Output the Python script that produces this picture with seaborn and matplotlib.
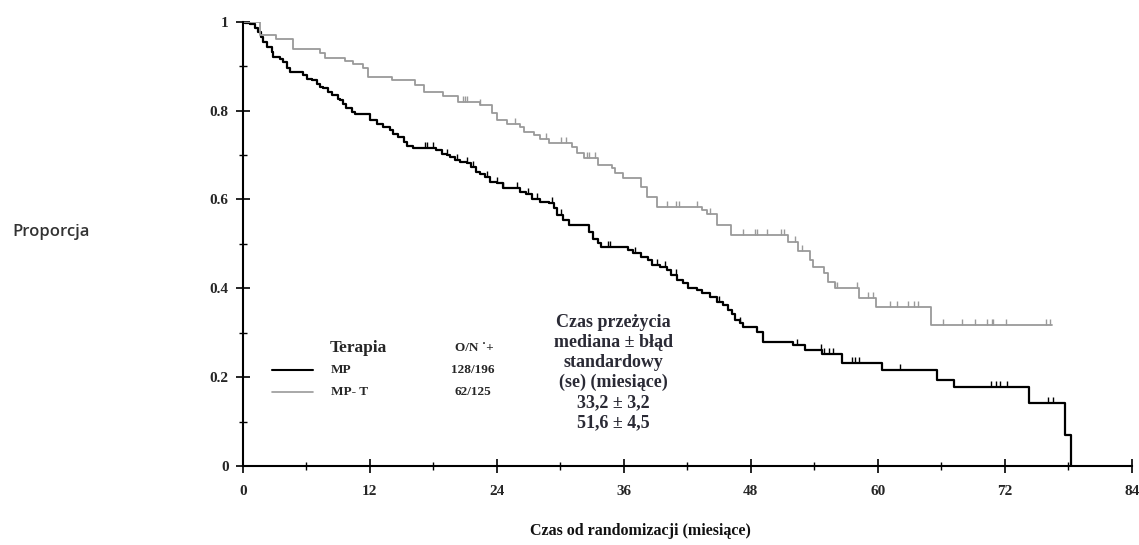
import numpy as np
import pandas as pd
import matplotlib
matplotlib.use("Agg")
import matplotlib.pyplot as plt
import seaborn as sns
from matplotlib.path import Path
from matplotlib.ticker import MultipleLocator

# ---------------- data ----------------
mp_time = [0, 0.22, 0.69, 1.16, 1.47, 1.70, 1.95, 2.27, 2.74, 2.89, 3.53, 3.84, 4.16, 4.47,
           5.73, 6.05, 6.52, 7.0, 7.3, 7.6, 8.1, 8.4, 9.0, 9.2, 9.5, 9.8, 10.3, 10.6, 12.0,
           12.7, 13.3, 13.9, 14.2, 14.7, 15.2, 15.5, 16.1, 18.3, 18.8, 19.3, 19.6, 20.1, 20.5,
           21.2, 21.6, 22.0, 22.4, 22.9, 23.4, 24.0, 24.6, 26.2, 26.8, 27.3, 28.1, 28.9, 29.4,
           29.7, 30.3, 30.8, 32.7, 33.1, 33.6, 33.9, 36.4, 36.9, 37.6, 38.3, 38.7, 39.4, 40.1,
           40.5, 41.0, 41.6, 42.1, 42.9, 43.4, 44.2, 44.8, 45.4, 45.9, 46.2, 46.5, 47.0, 47.3,
           48.6, 49.2, 52.0, 53.1, 54.7, 56.6, 60.4, 65.6, 67.2, 74.3, 77.7, 78.3]
mp_surv = [1.0, 0.998, 0.994, 0.986, 0.977, 0.966, 0.955, 0.943, 0.932, 0.921, 0.917, 0.910, 0.895, 0.887,
           0.880, 0.872, 0.868, 0.861, 0.853, 0.850, 0.841, 0.835, 0.827, 0.823, 0.816, 0.805, 0.796, 0.792, 0.778,
           0.771, 0.763, 0.756, 0.748, 0.741, 0.730, 0.721, 0.717, 0.711, 0.703, 0.700, 0.696, 0.688, 0.685,
           0.681, 0.673, 0.662, 0.658, 0.651, 0.640, 0.636, 0.625, 0.617, 0.613, 0.602, 0.595, 0.591, 0.580,
           0.565, 0.553, 0.542, 0.526, 0.512, 0.501, 0.493, 0.486, 0.479, 0.471, 0.463, 0.452, 0.448, 0.441,
           0.430, 0.418, 0.411, 0.400, 0.396, 0.389, 0.381, 0.370, 0.362, 0.351, 0.343, 0.328, 0.321, 0.313,
           0.302, 0.280, 0.272, 0.261, 0.253, 0.232, 0.216, 0.193, 0.177, 0.141, 0.070, 0.0]

mpt_time = [0, 1.65, 3.1, 4.75, 7.3, 7.8, 9.7, 10.4, 11.4, 11.8, 14.1, 16.3, 17.1, 18.9, 20.3,
            22.4, 23.6, 24.0, 25.0, 26.2, 26.6, 27.5, 28.1, 28.9, 31.1, 31.6, 32.2, 33.6, 34.9,
            35.2, 35.9, 37.6, 38.2, 39.1, 43.4, 43.9, 44.8, 46.1, 51.5, 52.5, 53.6, 53.9, 54.9,
            55.3, 56.0, 58.2, 59.8, 65.0, 76.5]
mpt_surv = [1.0, 0.970, 0.961, 0.938, 0.930, 0.919, 0.912, 0.904, 0.895, 0.876, 0.868, 0.857, 0.842, 0.832, 0.819,
            0.812, 0.795, 0.778, 0.771, 0.763, 0.752, 0.745, 0.737, 0.727, 0.718, 0.704, 0.693, 0.677, 0.670,
            0.659, 0.648, 0.628, 0.605, 0.583, 0.576, 0.567, 0.542, 0.519, 0.505, 0.484, 0.463, 0.448, 0.434,
            0.415, 0.400, 0.378, 0.357, 0.317, 0.317]

mp_censor = [17.2, 17.4, 18.0, 19.3, 20.2, 21.2, 21.8, 23.1, 24.0, 24.6, 25.9, 27.0, 27.8, 29.2, 30.1,
             34.5, 34.7, 37.1, 39.1, 39.9, 40.9, 45.0, 47.0, 52.4, 54.6, 54.9, 55.4, 55.8, 57.6, 57.9,
             58.2, 62.1, 70.7, 71.2, 71.6, 72.2, 76.1, 76.6]
mpt_censor = [20.8, 21.0, 21.2, 22.4, 25.7, 28.7, 30.1, 30.5, 32.5, 32.7, 33.3, 40.1, 40.9, 41.2, 42.9,
              44.2, 47.3, 48.4, 48.6, 49.5, 50.9, 51.1, 52.2, 52.8, 56.0, 56.2, 58.0, 59.1, 59.6, 61.2,
              61.8, 62.9, 63.4, 63.8, 66.2, 68.0, 69.2, 70.3, 70.8, 70.9, 72.1, 75.9, 76.3]

groups = ["MP", "MP- T"]
events = ["128/196", "62/125"]
medians = ["33,2 ± 3,2", "51,6 ± 4,5"]
x_ticks = [0, 12, 24, 36, 48, 60, 72, 84]
y_ticks = [0, 0.2, 0.4, 0.6, 0.8, 1.0]
y_tick_labels = ["0", "0.2", "0.4", "0.6", "0.8", "1"]
colors = {"MP": "#000000", "MP- T": "#9a9a9a"}

# ---------------- figure ----------------
sns.set_style("white")
plt.rcParams["font.family"] = ["Liberation Serif", "DejaVu Serif"]

fig = plt.figure(figsize=(11.39, 5.45), dpi=100)
ax = fig.add_axes([0.2131, 0.145, 0.7805, 0.815])

df = pd.concat([
    pd.DataFrame({"t": mp_time, "s": mp_surv, "g": groups[0]}),
    pd.DataFrame({"t": mpt_time, "s": mpt_surv, "g": groups[1]}),
])
for g, lw in zip(groups, [1.6, 1.3]):
    sub = df[df["g"] == g]
    sns.lineplot(data=sub, x="t", y="s", color=colors[g], drawstyle="steps-post",
                 estimator=None, sort=False, linewidth=lw, ax=ax, legend=False)

tick_marker = Path([(0, 0), (0, 1)], [Path.MOVETO, Path.LINETO])
for times, surv, cens, g in [(mp_time, mp_surv, mp_censor, groups[0]),
                             (mpt_time, mpt_surv, mpt_censor, groups[1])]:
    t = np.asarray(times); s = np.asarray(surv); c = np.asarray(cens)
    yy = s[np.searchsorted(t, c, side="right") - 1]
    ax.plot(c, yy, linestyle="none", marker=tick_marker, markersize=9,
            markeredgecolor=colors[g], markeredgewidth=1.0)

ax.set_xlim(0, 84)
ax.set_ylim(0, 1.0)
ax.set_xticks(x_ticks)
ax.set_yticks(y_ticks)
ax.set_yticklabels(y_tick_labels)
ax.xaxis.set_minor_locator(MultipleLocator(6))
ax.yaxis.set_minor_locator(MultipleLocator(0.1))
for sp in ["top", "right"]:
    ax.spines[sp].set_visible(False)
for sp in ["left", "bottom"]:
    ax.spines[sp].set_linewidth(1.5)
    ax.spines[sp].set_color("black")
ax.tick_params(which="both", bottom=True, left=True, top=False, right=False)
ax.tick_params(which="major", direction="inout", length=10, width=1.2, color="black",
               labelsize=11, pad=5)
ax.tick_params(which="minor", direction="inout", length=6, width=1.0, color="black")
ax.tick_params(axis="x", which="major", pad=9)
for lab in ax.get_xticklabels() + ax.get_yticklabels():
    lab.set_fontweight("bold")
ax.set_xlabel("")
ax.set_ylabel("")
for sp in ax.spines.values():
    sp.set_clip_on(False)

# axis titles
fig.text(12 / 1139, 1 - 232 / 545, "Proporcja", family=["Open Sans", "DejaVu Sans"],
         fontsize=12, fontweight="semibold", color="#333333", va="center", ha="left")
fig.text(640 / 1139, 1 - 531 / 545, "Czas od randomizacji (miesiące)", fontsize=11.5,
         fontweight="bold", ha="center", va="center", color="#111111")

# legend block (in data coordinates)
ax.text(8.2, 0.266, "Terapia", fontsize=12.5, fontweight="bold", ha="left", va="center")
ax.text(21.9, 0.266, "O/N ˙+", fontsize=9.5, fontweight="bold", ha="center", va="center")
for i, (g, e) in enumerate(zip(groups, events)):
    yv = 0.216 - i * 0.05
    ax.plot([2.75, 6.6], [yv, yv], color=colors[g], linewidth=1.5 if i == 0 else 1.2)
    ax.text(8.35, yv, g, fontsize=9.5, fontweight="bold", ha="left", va="center")
    ax.text(21.7, yv, e, fontsize=9.5, fontweight="bold", ha="center", va="center")

block = "Czas przeżycia\nmediana ± błąd\nstandardowy\n(se) (miesiące)\n" + "\n".join(medians)
ax.text(35.0, 0.21, block, fontsize=13, fontweight="bold", ha="center", va="center",
        linespacing=1.22, color="#2a2a35")

fig.savefig("out.png", dpi=100)
